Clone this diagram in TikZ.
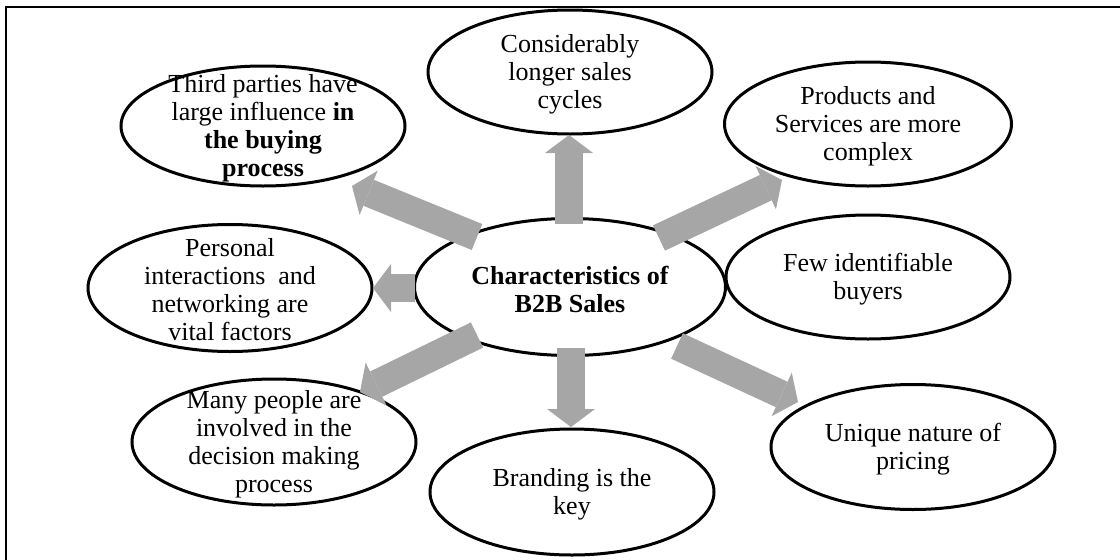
\documentclass[tikz,border=0pt]{standalone}
\usepackage{fontspec}
\setmainfont{Liberation Serif}
\usetikzlibrary{shapes.geometric,arrows.meta}
\definecolor{arrowgray}{HTML}{A6A6A6}
\tikzset{
  oval/.style={ellipse, draw, line width=3pt, minimum width=284pt, minimum height=124pt, inner sep=0pt},
  lbl/.style={align=center, font=\fontsize{26}{28}\selectfont, inner sep=0pt, yshift=-2pt},
  bigarrow/.style={draw=arrowgray, line width=28pt, -{Triangle[width=48pt,length=18pt,line width=0pt]}},
  frameline/.style={line width=2pt},
}
\begin{document}
\begin{tikzpicture}[x=1pt,y=-1pt]
\useasboundingbox (0,0) rectangle (1120,560);
\draw[frameline] (6,560) -- (6,7) -- (1120,7);

\node[oval, minimum width=311pt, minimum height=137pt, label={[lbl]center:{\textbf{Characteristics of}\\\textbf{B2B Sales}}}] (c) at (570,287) {};
\node[oval, label={[lbl]center:{Considerably\\longer sales\\cycles}}] (t1) at (570,72) {};
\node[oval, minimum height=120pt, label={[lbl]center:{Third parties have\\large influence \textbf{in}\\\textbf{the buying}\\\textbf{process}}}] (t2) at (263,126) {};
\node[oval, minimum width=287pt, label={[lbl]center:{Products and\\Services are more\\complex}}] (t3) at (868,124) {};
\node[oval, label={[lbl]center:{Few identifiable\\buyers}}] (t4) at (868,277) {};
\node[oval, minimum height=127pt, label={[lbl]center:{Personal\\interactions\ \ and\\networking are\\vital factors}}] (t5) at (230,288) {};
\node[oval, minimum height=126pt, label={[lbl]center:{Many people are\\involved in the\\decision making\\process}}] (t6) at (274,442) {};
\node[oval, minimum height=126pt, label={[lbl]center:{Branding is the\\key}}] (t7) at (572,492) {};
\node[oval, minimum height=125pt, label={[lbl]center:{Unique nature of\\pricing}}] (t8) at (913,447) {};

\coordinate (a1s) at (569,224); \coordinate (a1e) at (569,135);
\coordinate (a2s) at (477,237); \coordinate (a2e) at (352,186);
\coordinate (a3s) at (659,238); \coordinate (a3e) at (782,180);
\coordinate (a4s) at (415,288); \coordinate (a4e) at (373,288);
\coordinate (a5s) at (477,335); \coordinate (a5e) at (360,392);
\coordinate (a6s) at (571,348); \coordinate (a6e) at (571,427);
\coordinate (a7s) at (677,346); \coordinate (a7e) at (798,402);

\draw[bigarrow] (a1s) -- (a1e);
\draw[bigarrow] (a2s) -- (a2e);
\draw[bigarrow] (a3s) -- (a3e);
\draw[bigarrow] (a4s) -- (a4e);
\draw[bigarrow] (a5s) -- (a5e);
\draw[bigarrow] (a6s) -- (a6e);
\draw[bigarrow] (a7s) -- (a7e);
\end{tikzpicture}
\end{document}
